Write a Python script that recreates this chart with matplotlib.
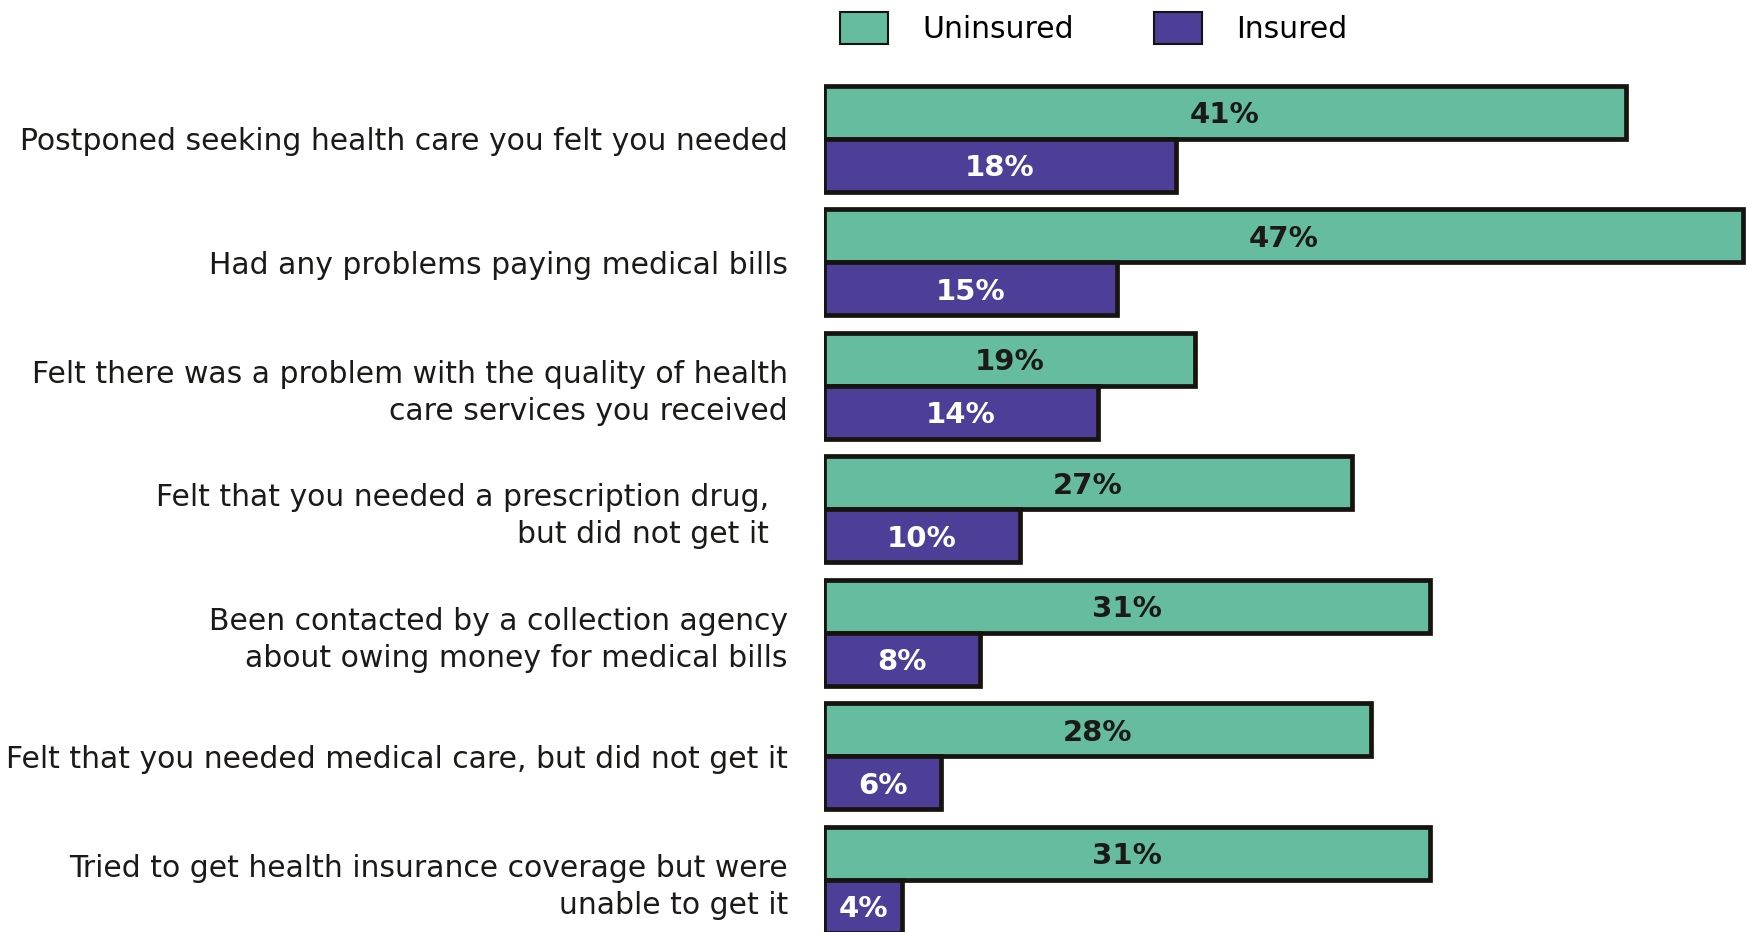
import matplotlib

matplotlib.use("Agg")
import matplotlib.pyplot as plt
from matplotlib.patches import Patch

plt.rcParams["font.family"] = ["DejaVu Sans"]

# 各项问题：未参保 / 参保人群比例（%）
categories = [
    "Postponed seeking health care you felt you needed",
    "Had any problems paying medical bills",
    "Felt there was a problem with the quality of health\ncare services you received",
    "Felt that you needed a prescription drug,  \nbut did not get it  ",
    "Been contacted by a collection agency\nabout owing money for medical bills",
    "Felt that you needed medical care, but did not get it",
    "Tried to get health insurance coverage but were\nunable to get it",
]
uninsured = [41, 47, 19, 27, 31, 28, 31]
insured = [18, 15, 14, 10, 8, 6, 4]
series_names = ["Uninsured", "Insured"]

GREEN = "#66bc9f"
PURPLE = "#4d3e98"
EDGE = "#17140f"
TEXT = "#1c1a18"

W, H = 1748, 932
fig = plt.figure(figsize=(W / 100, H / 100), dpi=100)
ax = fig.add_axes([824 / W, 0, 1 - 824 / W, 1])

h = 0.43
pos = list(range(len(categories)))
bars_u = ax.barh([p - h / 2 for p in pos], uninsured, height=h, color=GREEN,
                 edgecolor=EDGE, linewidth=3.4)
bars_i = ax.barh([p + h / 2 for p in pos], insured, height=h, color=PURPLE,
                 edgecolor=EDGE, linewidth=3.4)

for bar, v in zip(bars_u, uninsured):
    ax.text(bar.get_x() + bar.get_width() / 2, bar.get_y() + bar.get_height() / 2,
            f"{v}%", ha="center", va="center_baseline", fontsize=21,
            fontweight="bold", color=TEXT)
for bar, v in zip(bars_i, insured):
    ax.text(bar.get_x() + bar.get_width() / 2, bar.get_y() + bar.get_height() / 2,
            f"{v}%", ha="center", va="center_baseline", fontsize=21,
            fontweight="bold", color="white")

ax.set_xlim(0, 924 / 19.55)
ax.set_ylim(6.423, -1.123)
ax.set_yticks(pos)
ax.set_yticklabels(categories, fontsize=21.5, color=TEXT, linespacing=1.35)
ax.tick_params(axis="y", length=0, pad=26)
ax.set_xticks([])
for s in ax.spines.values():
    s.set_visible(False)

handles = [Patch(facecolor=GREEN, edgecolor=EDGE, linewidth=1.5),
           Patch(facecolor=PURPLE, edgecolor=EDGE, linewidth=1.5)]
fig.legend(handles, series_names, loc="upper left", bbox_to_anchor=(828 / W, 1.0),
           ncol=2, frameon=False, fontsize=21.5, handlelength=1.6, handleheight=1.25,
           handletextpad=1.15, columnspacing=2.7, borderaxespad=0.0)

fig.savefig("out.png", dpi=100)
plt.close(fig)
